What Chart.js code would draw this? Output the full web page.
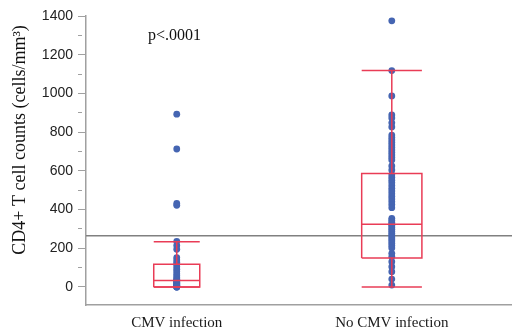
<!DOCTYPE html>
<html>
<head>
  <meta charset="utf-8">
  <title>CD4+ T cell counts by CMV infection</title>
  <style>
    html, body { margin: 0; padding: 0; background: #fff; }
    #wrap { width: 512px; height: 330px; }
  </style>
</head>
<body>
  <div id="wrap"><canvas id="canvas"></canvas></div>

  <script src="https://cdn.jsdelivr.net/npm/chart.js"></script>
  <script>
    // groups on the x axis
    const groups = ['CMV infection', 'No CMV infection'];
    const groupPos = [1, 2];

    // individual CD4+ counts (cells/mm3)
    const cmvCounts = [893, 713, 432, 422, 236, 215, 195, 152, 140, 128, 118, 105, 92, 80, 68,
      58, 48, 40, 35, 32, 28, 24, 20, 16, 12, 9, 6, 4, 2, 0, 0, 0];
    const noCmvCounts = [1375, 1118, 987, 889, 873, 848, 827, 785, 772, 760, 747, 734, 721, 708,
      695, 682, 669, 656, 625, 605, 580, 566, 552, 538, 524, 510, 496, 482, 468, 454, 440, 426,
      410, 355, 345, 335, 326, 318, 308, 298, 288, 278, 268, 258, 248, 238, 226, 214, 202,
      174, 157, 131, 105, 79, 41, 10];

    // box plot stats per group
    const whiskerLow = [0, 0];
    const q1 = [0, 150];
    const median = [33, 324];
    const q3 = [117, 586];
    const whiskerHigh = [234, 1118];

    // reference line and test result
    const refValue = 265;
    const pText = 'p<.0001';
    const yTitle = 'CD4+ T cell counts (cells/mm³)';

    const yTicks = [0, 100, 200, 300, 400, 500, 600, 700, 800, 900, 1000, 1100, 1200, 1300, 1400];

    const xMin = 0.578, xMax = 2.559;
    const boxHalf = [0.107, 0.14];
    const red = '#e93c56';
    const blue = '#4565b2';

    const datasets = [];

    // boxes, whiskers and caps
    groupPos.forEach((p, i) => {
      const w = boxHalf[i];
      const segs = [
        [{x: p - w, y: q1[i]}, {x: p + w, y: q1[i]}, {x: p + w, y: q3[i]}, {x: p - w, y: q3[i]}, {x: p - w, y: q1[i]}],
        [{x: p - w, y: median[i]}, {x: p + w, y: median[i]}],
        [{x: p, y: q3[i]}, {x: p, y: whiskerHigh[i]}],
        [{x: p - w, y: whiskerHigh[i]}, {x: p + w, y: whiskerHigh[i]}],
        [{x: p, y: q1[i]}, {x: p, y: whiskerLow[i]}],
        [{x: p - w, y: whiskerLow[i]}, {x: p + w, y: whiskerLow[i]}]
      ];
      segs.forEach(s => datasets.push({
        data: s,
        showLine: true,
        borderColor: red,
        borderWidth: 1.5,
        pointRadius: 0,
        fill: false,
        order: 0
      }));
    });

    // reference line
    datasets.push({
      data: [{x: xMin, y: refValue}, {x: xMax, y: refValue}],
      showLine: true,
      borderColor: '#808080',
      borderWidth: 1.5,
      pointRadius: 0,
      order: 2
    });

    // dots
    [cmvCounts, noCmvCounts].forEach((vals, i) => {
      datasets.push({
        data: vals.map(v => ({x: groupPos[i], y: v})),
        pointRadius: 3.4,
        pointBackgroundColor: blue,
        pointBorderWidth: 0,
        order: 1
      });
    });

    // p-value text and y axis title (title sits above the axis middle, as in the original)
    const textLabels = {
      id: 'textLabels',
      afterDatasetsDraw(chart) {
        const {ctx, scales: {x, y}} = chart;
        ctx.save();
        ctx.fillStyle = '#111';
        ctx.textAlign = 'center';
        ctx.textBaseline = 'middle';
        ctx.font = '16px "Liberation Serif"';
        ctx.fillText(pText, x.getPixelForValue(0.99), y.getPixelForValue(1297));
        ctx.translate(20, y.getPixelForValue(760));
        ctx.rotate(-Math.PI / 2);
        ctx.font = '18px "Liberation Serif"';
        ctx.fillText(yTitle, 0, 0);
        ctx.restore();
      }
    };

    const ctx = document.getElementById('canvas').getContext('2d');
    new Chart(ctx, {
      type: 'scatter',
      data: { datasets },
      plugins: [textLabels],
      options: {
        animation: false,
        responsive: true,
        maintainAspectRatio: false,
        layout: { autoPadding: false, padding: { top: 16, left: 0, right: 0, bottom: 0 } },
        plugins: {
          legend: { display: false },
          tooltip: { enabled: false }
        },
        scales: {
          x: {
            type: 'linear',
            min: xMin,
            max: xMax,
            afterBuildTicks: axis => { axis.ticks = groupPos.map(v => ({value: v})); },
            afterFit: axis => {
              axis.height = 25;
              axis.paddingLeft = 0;
              axis.paddingRight = 0;
            },
            ticks: {
              callback: v => groups[groupPos.indexOf(v)],
              font: { family: 'Liberation Serif', size: 15 },
              color: '#1a1a1a',
              padding: 9,
              maxRotation: 0
            },
            grid: { drawOnChartArea: false, drawTicks: false },
            border: { color: '#a0a0a0', width: 1.5 }
          },
          y: {
            min: -93,
            max: 1400,
            afterBuildTicks: axis => { axis.ticks = yTicks.map(v => ({value: v})); },
            afterFit: axis => {
              axis.width = 86;
              axis.paddingTop = 0;
              axis.paddingBottom = 0;
            },
            ticks: {
              callback: v => (v % 200 === 0 ? v : ''),
              font: { family: 'Liberation Sans', size: 14 },
              color: '#222',
              padding: 5
            },
            grid: {
              drawOnChartArea: false,
              tickLength: 8,
              color: '#a0a0a0',
              tickBorderDash: c => (c.tick && c.tick.value % 200 !== 0 ? [4, 20] : [])
            },
            border: { color: '#a0a0a0', width: 1.5 }
          }
        }
      }
    });
  </script>
</body>
</html>
